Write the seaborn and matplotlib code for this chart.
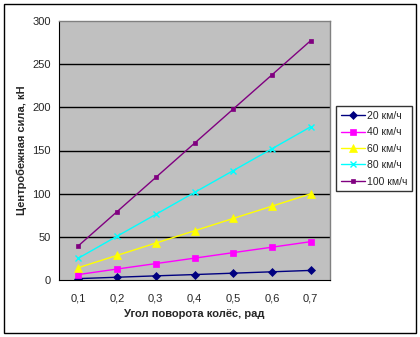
import matplotlib
matplotlib.use("Agg")
import matplotlib.pyplot as plt
import seaborn as sns
import pandas as pd
from matplotlib.patches import Rectangle
from matplotlib.lines import Line2D

angles = ["0,1", "0,2", "0,3", "0,4", "0,5", "0,6", "0,7"]
series_names = ["20 км/ч", "40 км/ч", "60 км/ч", "80 км/ч", "100 км/ч"]
v20 = [1.6, 3.2, 4.8, 6.3, 7.9, 9.5, 11.1]
v40 = [6.3, 12.7, 19.0, 25.3, 31.7, 38.0, 44.4]
v60 = [14.3, 28.5, 42.8, 57.0, 71.3, 85.5, 99.8]
v80 = [25.3, 50.7, 76.0, 101.4, 126.7, 152.0, 177.4]
v100 = [39.6, 79.2, 118.8, 158.4, 198.0, 237.6, 277.2]
yticks = [0, 50, 100, 150, 200, 250, 300]

colors = ["#000080", "#FF00FF", "#FFFF00", "#00FFFF", "#800080"]
markers = ["D", "s", "^", "x", "s"]
msizes = [4, 5, 6, 4, 3]

rows = []
for name, vals in zip(series_names, [v20, v40, v60, v80, v100]):
    for i, (a, v) in enumerate(zip(angles, vals)):
        rows.append({"pos": i, "angle": a, "value": v, "series": name})
df = pd.DataFrame(rows)

sns.set_style("white")
plt.rcParams["font.family"] = ["Liberation Sans", "DejaVu Sans"]

fig = plt.figure(figsize=(4.2, 3.37), dpi=100)
ax = fig.add_axes([59/420, 1-280/337, (330-59)/420, (280-21)/337])
ax.set_facecolor("#C0C0C0")

for name, c, m, ms in zip(series_names, colors, markers, msizes):
    sub = df[df["series"] == name]
    sns.lineplot(data=sub, x="pos", y="value", ax=ax, color=c, marker=m,
                 markersize=ms, markeredgecolor=c, markeredgewidth=1.0 if m == "x" else 0.5,
                 linewidth=1, legend=False)

ax.set_xlim(-0.5, 6.5)
ax.set_ylim(0, 300)
ax.set_yticks(yticks)
ax.set_yticklabels([str(t) for t in yticks], fontsize=8)
ax.set_xticks(range(len(angles)))
ax.set_xticklabels(angles, fontsize=8)
ax.set_xticks([i - 0.5 for i in range(len(angles) + 1)], minor=True)
ax.tick_params(axis="x", which="major", length=0, pad=10)
ax.tick_params(axis="x", which="minor", length=4, width=1, color="black", direction="out")
ax.tick_params(axis="y", which="major", length=4, width=1, color="black", direction="out", pad=2)
ax.grid(False)
for t in yticks[1:-1]:
    ax.axhline(t, color="black", linewidth=1.0, zorder=0.5)
for s in ["top", "right"]:
    ax.spines[s].set_color("#808080")
    ax.spines[s].set_linewidth(1)
ax.spines["left"].set_color("black")
ax.spines["bottom"].set_color("black")
ax.set_xlabel("Угол поворота колёс, рад", fontsize=8, fontweight="bold", labelpad=4)
ax.set_ylabel("Центробежная сила, кН", fontsize=8, fontweight="bold", labelpad=4)

handles = [Line2D([0], [0], color=c, marker=m, markersize=ms, markeredgecolor=c,
                  markeredgewidth=1.0 if m == "x" else 0.5, linewidth=1)
           for c, m, ms in zip(colors, markers, msizes)]
leg = fig.legend(handles, series_names, loc="upper left", bbox_to_anchor=(336/420, 1-106/337),
                 fontsize=7.5, frameon=True, fancybox=False, edgecolor="black",
                 handlelength=2.3, handletextpad=0.2, labelspacing=0.62, borderpad=0.45,
                 borderaxespad=0)
leg.get_frame().set_linewidth(1)

fig.patches.append(Rectangle((4/420, 4/337), 412/420, 329/337, transform=fig.transFigure,
                             fill=False, edgecolor="black", linewidth=1))

fig.savefig("out.png", dpi=100)
